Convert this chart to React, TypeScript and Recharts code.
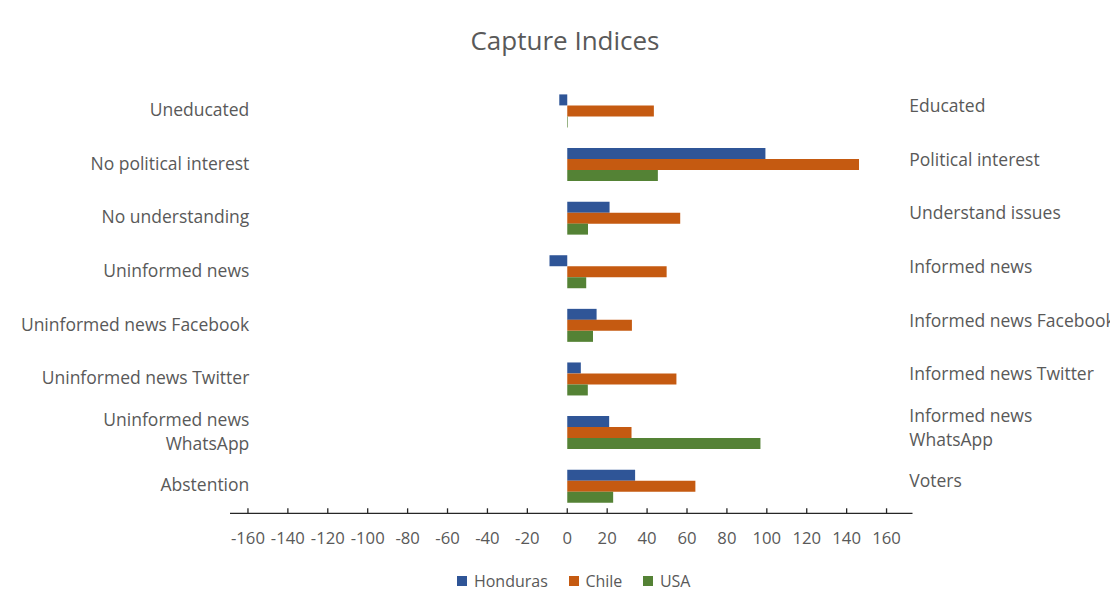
import React from 'react';
import { BarChart, Bar, XAxis, YAxis, Legend } from 'recharts';

const leftLabels = [
  'Uneducated',
  'No political interest',
  'No understanding',
  'Uninformed news',
  'Uninformed news Facebook',
  'Uninformed news Twitter',
  'Uninformed news\nWhatsApp',
  'Abstention',
];
const rightLabels = [
  'Educated',
  'Political interest',
  'Understand issues',
  'Informed news',
  'Informed news Facebook',
  'Informed news Twitter',
  'Informed news\nWhatsApp',
  'Voters',
];
const seriesNames = ['Honduras', 'Chile', 'USA'];
const honduras = [-4, 99.3, 21.2, -8.9, 14.7, 6.8, 21, 34];
const chile = [43.4, 146.2, 56.6, 49.8, 32.4, 54.7, 32.2, 64.2];
const usa = [0.3, 45.4, 10.4, 9.5, 12.9, 10.3, 96.8, 23];
const xTicks = [-160, -140, -120, -100, -80, -60, -40, -20, 0, 20, 40, 60, 80, 100, 120, 140, 160];

const data = leftLabels.map((l, i) => ({
  left: l,
  right: rightLabels[i],
  Honduras: honduras[i],
  Chile: chile[i],
  USA: usa[i],
}));

const FONT = "'Open Sans', sans-serif";
const TEXT = '#595959';

const LeftTick = (props: any) => {
  const { x, y, payload } = props;
  const lines = String(payload.value).split('\n');
  const lh = 24.5;
  const tx = x + 19.3;
  const y0 = y + 5 - ((lines.length - 1) * lh) / 2;
  return (
    <text x={tx} y={y0} textAnchor="end" fill={TEXT} fontSize={17.5} fontFamily={FONT}>
      {lines.map((l, i) => (
        <tspan key={i} x={tx} dy={i === 0 ? 0 : lh}>
          {l}
        </tspan>
      ))}
    </text>
  );
};

const RightTick = (props: any) => {
  const { x, y, payload } = props;
  const lines = String(payload.value).split('\n');
  const lh = 24;
  const tx = x - 3.2;
  const y0 = y + 1 - ((lines.length - 1) * lh) / 2;
  return (
    <text x={tx} y={y0} textAnchor="start" fill={TEXT} fontSize={17.5} fontFamily={FONT}>
      {lines.map((l, i) => (
        <tspan key={i} x={tx} dy={i === 0 ? 0 : lh}>
          {l}
        </tspan>
      ))}
    </text>
  );
};

const XTick = (props: any) => {
  const { x, y, payload } = props;
  return (
    <g>
      <line x1={x} x2={x} y1={y - 5} y2={y} stroke="#262626" strokeWidth={1.3} />
      <text x={x} y={y + 30.7} textAnchor="middle" fill={TEXT} fontSize={16.7} fontFamily={FONT}>
        {payload.value}
      </text>
    </g>
  );
};

const renderLegend = (props: any) => {
  const items = [...(props.payload || [])].sort(
    (a: any, b: any) => seriesNames.indexOf(a.value) - seriesNames.indexOf(b.value)
  );
  return (
    <div
      style={{
        display: 'flex',
        alignItems: 'center',
        fontFamily: FONT,
        fontSize: 16,
        color: TEXT,
        lineHeight: '20px',
        whiteSpace: 'nowrap',
      }}
    >
      {items.map((p: any, i: number) => (
        <div key={i} style={{ display: 'flex', alignItems: 'center', marginRight: 21 }}>
          <span
            style={{ width: 10, height: 10, background: p.color, marginRight: 6.6, display: 'inline-block' }}
          />
          <span>{p.value}</span>
        </div>
      ))}
    </div>
  );
};

export default function App() {
  return (
    <div style={{ position: 'relative', width: 1110, height: 592 }}>
      <style>{'html,body{overflow:hidden}svg.recharts-surface{overflow:visible !important}'}</style>
      <div
        style={{
          position: 'absolute',
          left: -2,
          top: -3,
          width: 1112,
          height: 603,
          borderLeft: '2px solid #d9d9d9',
          borderTop: '2px solid #d9d9d9',
          boxSizing: 'border-box',
        }}
      />
      <div
        style={{
          position: 'absolute',
          left: 0,
          top: 18.9,
          width: 1114,
          textAlign: 'center',
          fontFamily: FONT,
          fontSize: 26,
          lineHeight: '26px',
          color: TEXT,
        }}
      >
        Capture Indices
      </div>
      <BarChart
        width={1110}
        height={592}
        data={data}
        layout="vertical"
        margin={{ top: 76.4, right: 0, bottom: 46.7, left: 0 }}
        barSize={11}
        barGap={0}
        style={{ overflow: 'visible' }}
      >
        <XAxis
          type="number"
          domain={[-169, 173]}
          ticks={xTicks}
          interval={0}
          height={40}
          tickSize={0}
          tickMargin={0}
          tickLine={false}
          axisLine={{ stroke: '#262626', strokeWidth: 1.3 }}
          tick={<XTick />}
        />
        <YAxis
          yAxisId="left"
          type="category"
          dataKey="left"
          orientation="left"
          width={222}
          interval={0}
          tickSize={0}
          tickMargin={0}
          axisLine={false}
          tickLine={false}
          tick={<LeftTick />}
        />
        <YAxis
          yAxisId="right"
          type="category"
          dataKey="right"
          orientation="right"
          width={205.5}
          interval={0}
          tickSize={0}
          tickMargin={0}
          axisLine={false}
          tickLine={false}
          tick={<RightTick />}
        />
        <Legend
          layout="horizontal"
          verticalAlign="middle"
          align="center"
          itemSorter={null as any}
          wrapperStyle={{ top: 562.5, left: 449.3, width: 300 }}
          content={renderLegend}
        />
        <Bar yAxisId="left" dataKey="Honduras" name="Honduras" fill="#2F5597" isAnimationActive={false} />
        <Bar yAxisId="left" dataKey="Chile" name="Chile" fill="#C55A11" isAnimationActive={false} />
        <Bar yAxisId="left" dataKey="USA" name="USA" fill="#548235" isAnimationActive={false} />
      </BarChart>
    </div>
  );
}
